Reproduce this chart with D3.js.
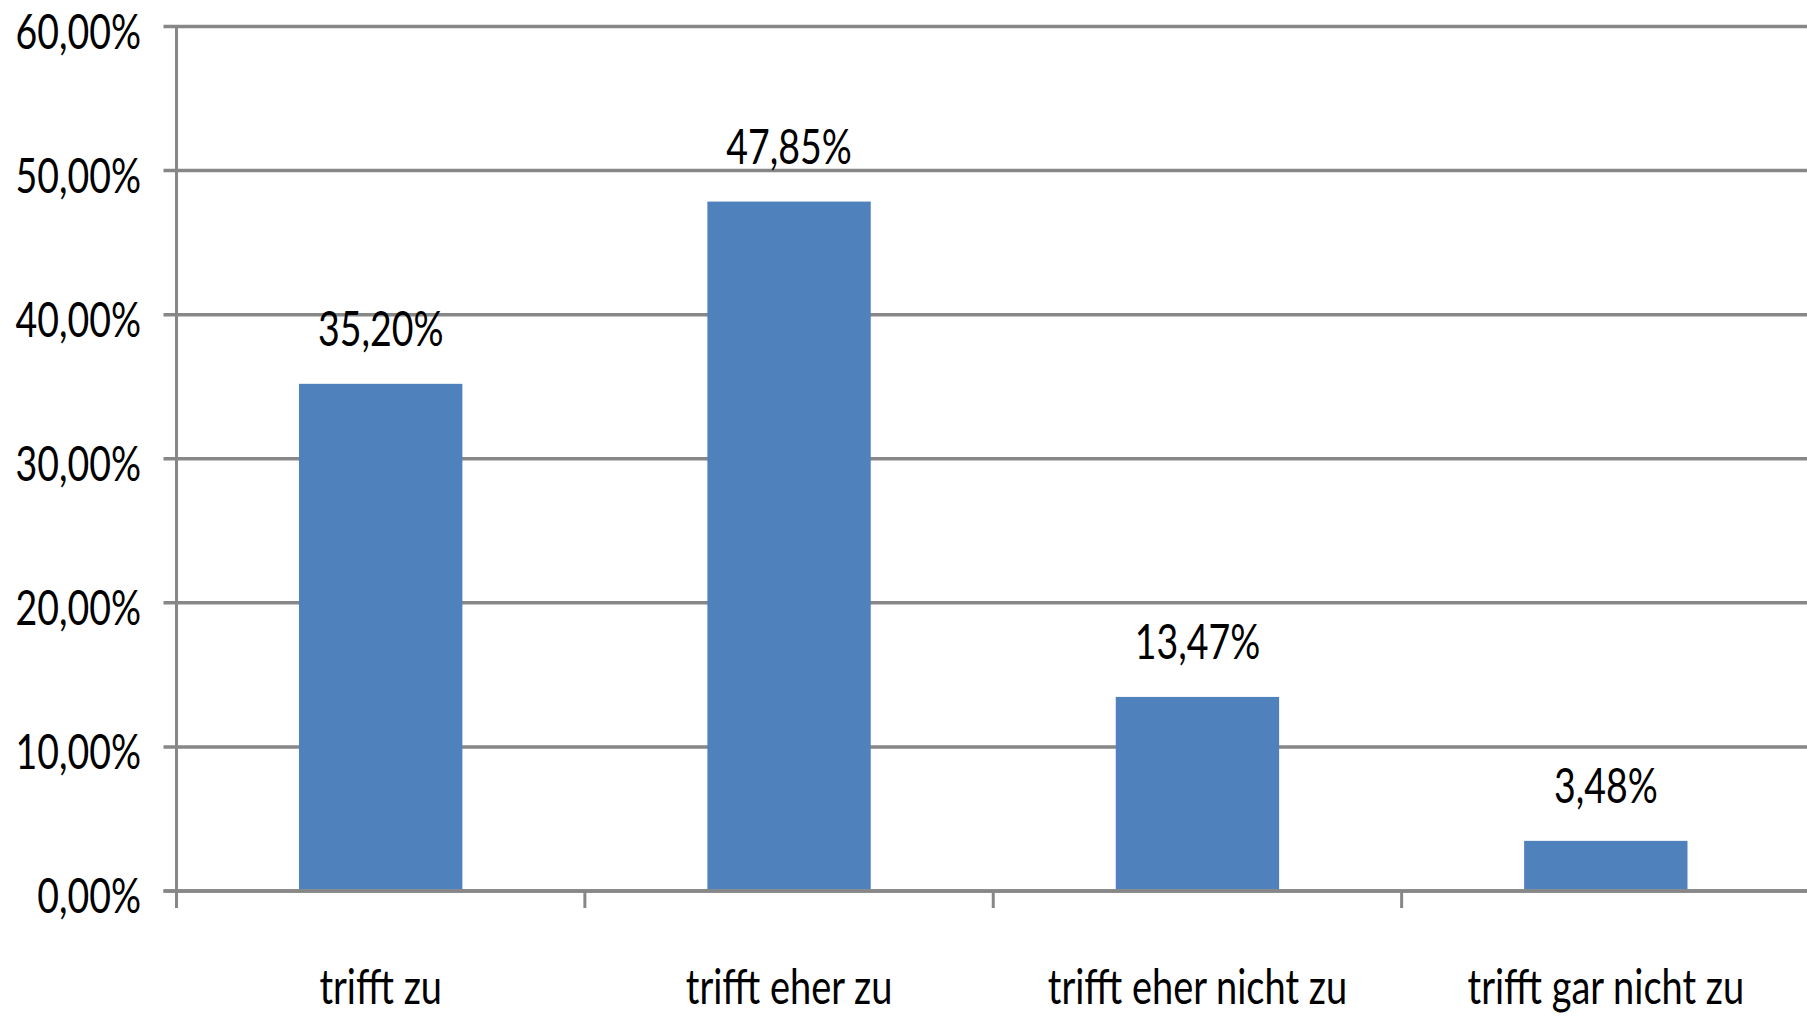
<!DOCTYPE html>
<html>
<head>
<meta charset="utf-8">
<script src="https://cdn.jsdelivr.net/npm/d3@7"></script>
<style>
  html, body { margin: 0; padding: 0; background: #ffffff; }
  svg { display: block; }
  text { font-family: Lato, "Open Sans", sans-serif; fill: #000; }
</style>
</head>
<body>
<svg id="chart" width="1807" height="1016"></svg>
<script>
const categories = ["trifft zu", "trifft eher zu", "trifft eher nicht zu", "trifft gar nicht zu"];
const values = [0.3520, 0.4785, 0.1347, 0.0348];
const valueLabels = ["35,20%", "47,85%", "13,47%", "3,48%"];
const yTicks = [0, 0.1, 0.2, 0.3, 0.4, 0.5, 0.6];
const yTickLabels = ["0,00%", "10,00%", "20,00%", "30,00%", "40,00%", "50,00%", "60,00%"];

(function () {
const W = 1807, H = 1016;
const pLeft = 176.5, pRight = 1810, pTop = 26.5, pBottom = 891;
const fontSize = 49, sxNum = 0.765, sxCat = 0.775;
const gridColor = "#878787";
const barColor = "#4F81BD";

const svg = d3.select("#chart");

const x = d3.scaleBand().domain(categories).range([pLeft, pRight]).paddingInner(0.6).paddingOuter(0.3);
const xb = d3.scaleBand().domain(categories).range([pLeft, pRight]).padding(0);
const y = d3.scaleLinear().domain([0, 0.6]).range([pBottom, pTop]);

// gridlines
svg.append("g").selectAll("line").data(yTicks).join("line")
  .attr("x1", pLeft - 13).attr("x2", W)
  .attr("y1", d => y(d)).attr("y2", d => y(d))
  .attr("stroke", gridColor).attr("stroke-width", 3.5);

// y axis line
svg.append("line").attr("x1", pLeft).attr("x2", pLeft)
  .attr("y1", pTop).attr("y2", pBottom + 17)
  .attr("stroke", gridColor).attr("stroke-width", 3);

// category ticks
const bounds = categories.map(c => xb(c)).concat([xb(categories[categories.length-1]) + xb.bandwidth()]);
svg.append("g").selectAll("line").data(bounds.slice(1)).join("line")
  .attr("x1", d => d).attr("x2", d => d)
  .attr("y1", pBottom).attr("y2", pBottom + 17)
  .attr("stroke", gridColor).attr("stroke-width", 3);

// bars
svg.append("g").selectAll("rect").data(values).join("rect")
  .attr("x", (d, i) => x(categories[i]))
  .attr("width", x.bandwidth())
  .attr("y", d => y(d))
  .attr("height", d => pBottom - y(d) - 1.5)
  .attr("fill", barColor);

// baseline redraw on top
svg.append("line").attr("x1", pLeft - 13).attr("x2", W)
  .attr("y1", y(0)).attr("y2", y(0))
  .attr("stroke", gridColor).attr("stroke-width", 3.5);

function stretchedText(g, tx, ty, str, anchor, sx) {
  return g.append("text")
    .attr("transform", `translate(${tx},${ty}) scale(${sx},1)`)
    .attr("text-anchor", anchor)
    .attr("font-size", fontSize)
    .text(str);
}

// y tick labels
const yg = svg.append("g");
yTicks.forEach((t, i) => stretchedText(yg, 141, y(t) + 22, yTickLabels[i], "end", sxNum));

// value labels
const vg = svg.append("g");
values.forEach((v, i) => stretchedText(vg, x(categories[i]) + x.bandwidth() / 2, y(v) - 38, valueLabels[i], "middle", sxNum));

// category labels
const cg = svg.append("g");
categories.forEach(c => stretchedText(cg, xb(c) + xb.bandwidth() / 2, 1004, c, "middle", sxCat));
})();
</script>
</body>
</html>
